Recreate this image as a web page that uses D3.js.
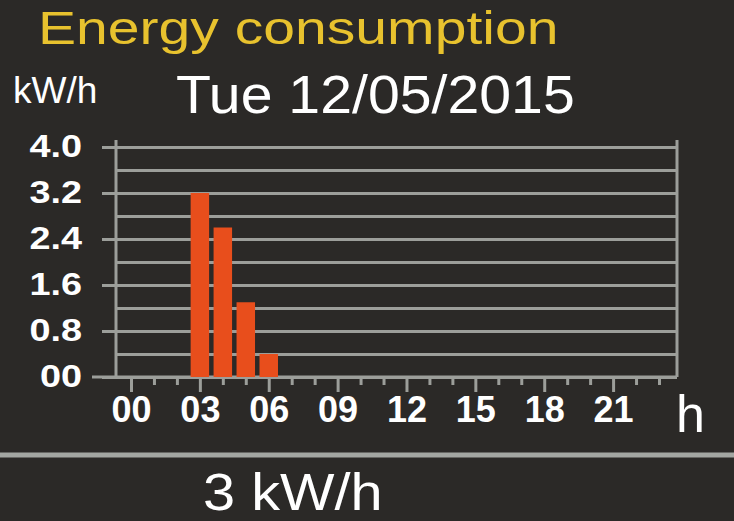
<!DOCTYPE html>
<html>
<head>
<meta charset="utf-8">
<script src="https://cdn.jsdelivr.net/npm/d3@7"></script>
<style>
  html, body { margin: 0; padding: 0; background: #2b2927; }
  #vis { width: 734px; height: 521px; }
  text { font-family: "Liberation Sans", Arial, sans-serif; }
</style>
</head>
<body>
<div id="vis"></div>
<script>
// hourly readings for the day
var hours = d3.range(0, 24);
var values = [0, 0, 0, 3.2, 2.6, 1.3, 0.4, 0, 0, 0, 0, 0, 0, 0, 0, 0, 0, 0, 0, 0, 0, 0, 0, 0];
var majorHours = [0, 3, 6, 9, 12, 15, 18, 21];
var yMajor = [0, 0.8, 1.6, 2.4, 3.2, 4.0];
var yMinor = [0.4, 1.2, 2.0, 2.8, 3.6];
var yLabels = ['00', '0.8', '1.6', '2.4', '3.2', '4.0'];

var title = 'Energy consumption';
var dateLabel = 'Tue 12/05/2015';
var unitLabel = 'kW/h';
var totalLabel = '3 kW/h';

var width = 734, height = 521;
var gridColor = '#9c9e9a';

var plot = { left: 116, right: 677, top: 140, bottom: 377 };

var svg = d3.select('#vis')
    .append('svg')
    .attr('width', width)
    .attr('height', height);

svg.append('rect')
    .attr('width', width)
    .attr('height', height)
    .attr('fill', '#2b2927');

var x_scale = d3.scaleLinear()
    .domain([0, 23])
    .range([131, 659]);

var y_scale = d3.scaleLinear()
    .domain([0, 4])
    .range([plot.bottom, 147]);

// horizontally stretched text, anchored at (x, y)
function stretchText(x, y, str, size, sx, opts) {
    opts = opts || {};
    return svg.append('text')
        .attr('transform', 'translate(' + x + ',' + y + ') scale(' + sx + ',1)')
        .attr('text-anchor', opts.anchor || 'start')
        .attr('font-size', size)
        .attr('font-weight', opts.weight || 'normal')
        .attr('fill', opts.fill || '#ffffff')
        .text(str);
}

// minor grid lines
var yMinorAxis = d3.axisLeft(y_scale)
    .tickValues(yMinor)
    .tickSize(plot.right - plot.left)
    .tickFormat('');

svg.append('g')
    .attr('class', 'y minor')
    .attr('transform', 'translate(' + plot.right + ',0)')
    .call(yMinorAxis);

// major grid lines with labels
var yMajorAxis = d3.axisLeft(y_scale)
    .tickValues(yMajor)
    .tickSize(plot.right - 102)
    .tickPadding(20)
    .tickFormat(function(d, i) { return yLabels[i]; });

var yAxisG = svg.append('g')
    .attr('class', 'y major')
    .attr('transform', 'translate(' + plot.right + ',0)')
    .call(yMajorAxis);

svg.selectAll('.y .domain').remove();
svg.selectAll('.y line')
    .attr('stroke', gridColor)
    .attr('stroke-width', 3);

var labelX = -(plot.right - 102) - 20;
yAxisG.selectAll('text')
    .attr('fill', '#ffffff')
    .attr('font-size', 31)
    .attr('font-weight', 'bold')
    .attr('font-family', '"Liberation Sans", Arial, sans-serif')
    .attr('transform', 'translate(' + labelX + ',0) scale(1.22,1) translate(' + (-labelX) + ',0)');

// baseline runs further left
svg.append('line')
    .attr('x1', 92)
    .attr('x2', plot.right)
    .attr('y1', y_scale(0))
    .attr('y2', y_scale(0))
    .attr('stroke', gridColor)
    .attr('stroke-width', 3);

// frame verticals
svg.selectAll('.frame')
    .data([plot.left, plot.right])
    .enter()
    .append('line')
    .attr('class', 'frame')
    .attr('x1', function(d) { return d; })
    .attr('x2', function(d) { return d; })
    .attr('y1', plot.top)
    .attr('y2', plot.bottom)
    .attr('stroke', gridColor)
    .attr('stroke-width', 3);

// bars
svg.selectAll('.bar')
    .data(values)
    .enter()
    .append('rect')
    .attr('class', 'bar')
    .attr('x', function(d, i) { return x_scale(hours[i]) - 9.25; })
    .attr('width', 18.5)
    .attr('y', function(d) { return y_scale(d); })
    .attr('height', function(d) { return y_scale(0) - y_scale(d); })
    .attr('fill', '#e84e1c');

// x ticks
var xMinorAxis = d3.axisBottom(x_scale)
    .tickValues(hours.filter(function(h) { return majorHours.indexOf(h) < 0; }))
    .tickSize(7)
    .tickFormat('');

svg.append('g')
    .attr('class', 'x minor')
    .attr('transform', 'translate(0,' + (y_scale(0) + 1) + ')')
    .call(xMinorAxis);

var xMajorAxis = d3.axisBottom(x_scale)
    .tickValues(majorHours)
    .tickSize(14)
    .tickPadding(4)
    .tickFormat(function(d) { return d3.format('02d')(d); });

svg.append('g')
    .attr('class', 'x major')
    .attr('transform', 'translate(0,' + (y_scale(0) + 1) + ')')
    .call(xMajorAxis);

svg.selectAll('.x .domain').remove();
svg.selectAll('.x line')
    .attr('stroke', gridColor)
    .attr('stroke-width', 3);
svg.selectAll('.x text')
    .attr('fill', '#ffffff')
    .attr('font-size', 36)
    .attr('font-weight', 'bold')
    .attr('font-family', '"Liberation Sans", Arial, sans-serif');

// titles and labels
stretchText(38, 43.5, title, 47, 1.215, { fill: '#e8c22e' });
stretchText(13, 103, unitLabel, 36, 1.03);
stretchText(176, 113, dateLabel, 54, 1.06);
stretchText(676, 432, 'h', 52, 1);

// separator
svg.append('line')
    .attr('x1', 0)
    .attr('x2', width)
    .attr('y1', 455)
    .attr('y2', 455)
    .attr('stroke', '#a3a6a2')
    .attr('stroke-width', 5);

stretchText(203, 509.5, totalLabel, 52, 1.11);
</script>
</body>
</html>
